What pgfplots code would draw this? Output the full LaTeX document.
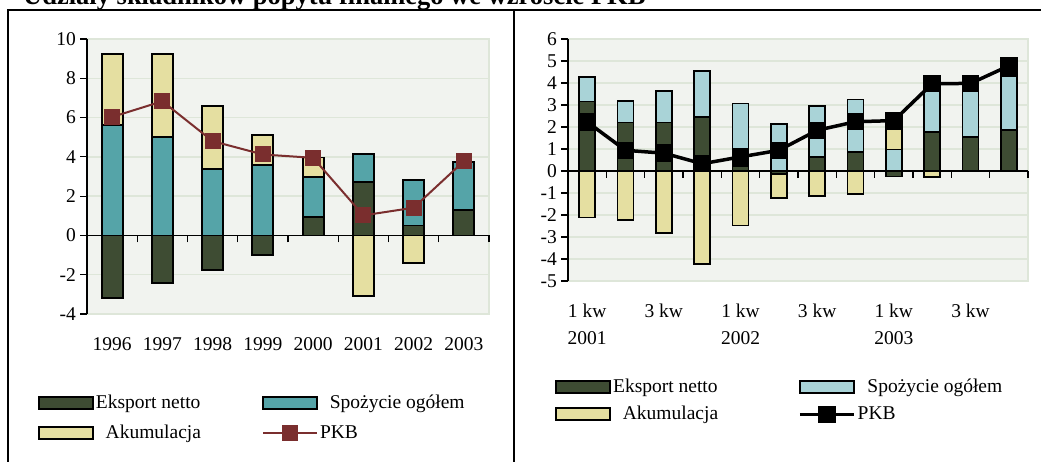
\documentclass[border=0pt]{standalone}
\usepackage{fontspec}
\setmainfont{Liberation Serif}
\usepackage{pgfplots}
\pgfplotsset{compat=1.18}
\usepackage{pgfplotstable}
\definecolor{eks}{HTML}{3E4C33}
\definecolor{spozL}{HTML}{55A4A8}
\definecolor{spozR}{HTML}{A9D3D7}
\definecolor{aku}{HTML}{E5DFA1}
\definecolor{pkbL}{HTML}{7A2E2E}
\definecolor{bgc}{HTML}{F1F3EF}
\definecolor{gridc}{HTML}{DEE6D9}

% positive and negative parts are stacked separately by pgfplots
\pgfplotstableread{
x Epos Spos Apos Eneg Aneg PKB
0 0    5.63 3.61 -3.20 0     6.03
1 0    5.00 4.24 -2.41 0     6.83
2 0    3.39 3.19 -1.75 0     4.80
3 0    3.58 1.54 -1.00 0     4.12
4 0.93 2.04 1.00 0     0     3.95
5 2.73 1.41 0    0     -3.08 1.02
6 0.51 2.32 0    0     -1.42 1.41
7 1.29 2.46 0    0     0     3.78
}\dataL

\pgfplotstableread{
x  Epos Spos Apos Eneg  Aneg  PKB
0  3.16 1.13 0    0     -2.11 2.23
1  2.20 0.97 0    0     -2.23 0.94
2  2.20 1.44 0    0     -2.83 0.81
3  2.47 2.07 0    0     -4.24 0.33
4  0.20 2.87 0    0     -2.48 0.64
5  0    2.12 0    -0.15 -1.09 0.94
6  0.62 2.33 0    0     -1.14 1.85
7  0.85 2.40 0    0     -1.05 2.24
8  0    0.98 0.92 -0.25 0     2.29
9  1.78 1.83 0    0     -0.27 3.97
10 1.53 2.10 0    0     0     3.98
11 1.85 2.48 0    0     0     4.78
}\dataR

\pgfplotsset{
  common/.style={scale only axis, anchor=south west,
    xmin=-0.5,
    axis background/.style={fill=bgc, draw=gridc, line width=1.5pt},
    ymajorgrids, major grid style={gridc, line width=1.5pt},
    axis x line=middle, axis y line=left,
    axis line style={-, black, line width=1.1pt},
    tick style={black, line width=1.1pt},
    major tick length=7pt, tick align=outside,
    tick label style={font=\fontsize{19.5}{23.4}\selectfont},
    yticklabel style={inner sep=4pt},
    hide obscured x ticks=false, hide obscured y ticks=false,
    xticklabels={},
    ybar stacked},
  lineax/.style={scale only axis, anchor=south west, xmin=-0.5, hide axis, clip=false,
    legend cell align=left, legend columns=2},
  mybar/.style={draw=black, line width=1.8pt,
    legend image code/.code={\draw[##1] (0pt,-6pt) rectangle (54pt,6pt);}},
  pkbleg/.style={legend image code/.code={\draw[##1, mark repeat=2, mark phase=2] plot coordinates {(0pt,0pt) (27pt,0pt) (54pt,0pt)};}},
  barst/.style={draw=black, line width=1.8pt},
}

\begin{document}
\begin{tikzpicture}[x=1pt,y=1pt]
\useasboundingbox (0,0) rectangle (1041,462);
\clip (0,0) rectangle (1041,462);
\fill[white] (0,0) rectangle (1041,462);

\node[anchor=base west, inner sep=0pt, font=\bfseries\fontsize{26.5}{30}\selectfont] at (23,457) {Udziały składników popytu finalnego we wzroście PKB};

% ---------------- left chart -----------------
\begin{axis}[common, at={(87pt,148pt)}, width=402pt, height=275pt,
  xmax=7.5, ymin=-4, ymax=10,
  ytick={-4,-2,0,2,4,6,8,10}, yticklabels={-4,-2,0,2,4,6,8,10},
  xtick={0.5,1.5,2.5,3.5,4.5,5.5,6.5,7.5},
  extra x ticks={0,1,2,3,4,5,6,7},
  extra x tick labels={1996,1997,1998,1999,2000,2001,2002,2003},
  extra x tick style={major tick length=0pt, tick label style={anchor=north, inner sep=0pt, yshift=-102pt}},
  bar width=21pt]
\addplot[barst, fill=eks] table[x=x,y=Epos]{\dataL};
\addplot[barst, fill=spozL] table[x=x,y=Spos]{\dataL};
\addplot[barst, fill=aku] table[x=x,y=Apos]{\dataL};
\addplot[barst, fill=eks] table[x=x,y=Eneg]{\dataL};
\addplot[barst, fill=aku] table[x=x,y=Aneg]{\dataL};
\end{axis}
\begin{axis}[lineax, at={(87pt,148pt)}, width=402pt, height=275pt,
  xmax=7.5, ymin=-4, ymax=10,
  legend style={draw=none, fill=none, at={(-0.122,-0.284)}, anchor=north west,
    inner sep=0pt, font=\fontsize{19.5}{23.4}\selectfont, row sep=8pt,
    /tikz/every even column/.append style={column sep=59pt},
    nodes={inner sep=2pt, text height=14pt, text depth=4pt}}]
\addlegendimage{mybar, fill=eks}
\addlegendentry{Eksport netto}
\addlegendimage{mybar, fill=spozL}
\addlegendentry{\ \ Spożycie ogółem}
\addlegendimage{mybar, fill=aku}
\addlegendentry{\ \ Akumulacja}
\addplot[pkbL, line width=2pt, mark=square*, mark size=7pt, mark options={solid}, pkbleg] table[x=x,y=PKB]{\dataL};
\addlegendentry{PKB}
\end{axis}

% ---------------- right chart -----------------
\begin{axis}[common, at={(568pt,181pt)}, width=460pt, height=242pt,
  xmax=11.5, ymin=-5, ymax=6,
  ytick={-5,-4,-3,-2,-1,0,1,2,3,4,5,6}, yticklabels={-5,-4,-3,-2,-1,0,1,2,3,4,5,6},
  xtick={0.5,1.5,2.5,3.5,4.5,5.5,6.5,7.5,8.5,9.5,10.5,11.5},
  extra x ticks={0,2,4,6,8,10},
  extra x tick labels={{1 kw\\[3pt]2001},{3 kw},{1 kw\\[3pt]2002},{3 kw},{1 kw\\[3pt]2003},{3 kw}},
  extra x tick style={major tick length=0pt, tick label style={anchor=north, align=center, inner sep=0pt, yshift=-133pt}},
  bar width=16pt]
\addplot[barst, fill=eks] table[x=x,y=Epos]{\dataR};
\addplot[barst, fill=spozR] table[x=x,y=Spos]{\dataR};
\addplot[barst, fill=aku] table[x=x,y=Apos]{\dataR};
\addplot[barst, fill=eks] table[x=x,y=Eneg]{\dataR};
\addplot[barst, fill=aku] table[x=x,y=Aneg]{\dataR};
\end{axis}
\begin{axis}[lineax, at={(568pt,181pt)}, width=460pt, height=242pt,
  xmax=11.5, ymin=-5, ymax=6,
  legend style={draw=none, fill=none, at={(-0.028,-0.393)}, anchor=north west,
    inner sep=0pt, font=\fontsize{19.5}{23.4}\selectfont, row sep=5pt,
    /tikz/every even column/.append style={column sep=78pt},
    nodes={inner sep=2pt, text height=14pt, text depth=4pt}}]
\addlegendimage{mybar, fill=eks}
\addlegendentry{Eksport netto}
\addlegendimage{mybar, fill=spozR}
\addlegendentry{\ \ Spożycie ogółem}
\addlegendimage{mybar, fill=aku}
\addlegendentry{\ \ Akumulacja}
\addplot[black, line width=3.5pt, mark=square*, mark size=7pt, mark options={solid}, pkbleg] table[x=x,y=PKB]{\dataR};
\addlegendentry{PKB}
\end{axis}

% frame
\draw[line width=2.5pt] (8,-5) -- (8,452) -- (1050,452);
\draw[line width=2pt] (514,452) -- (514,-5);
\end{tikzpicture}
\end{document}
